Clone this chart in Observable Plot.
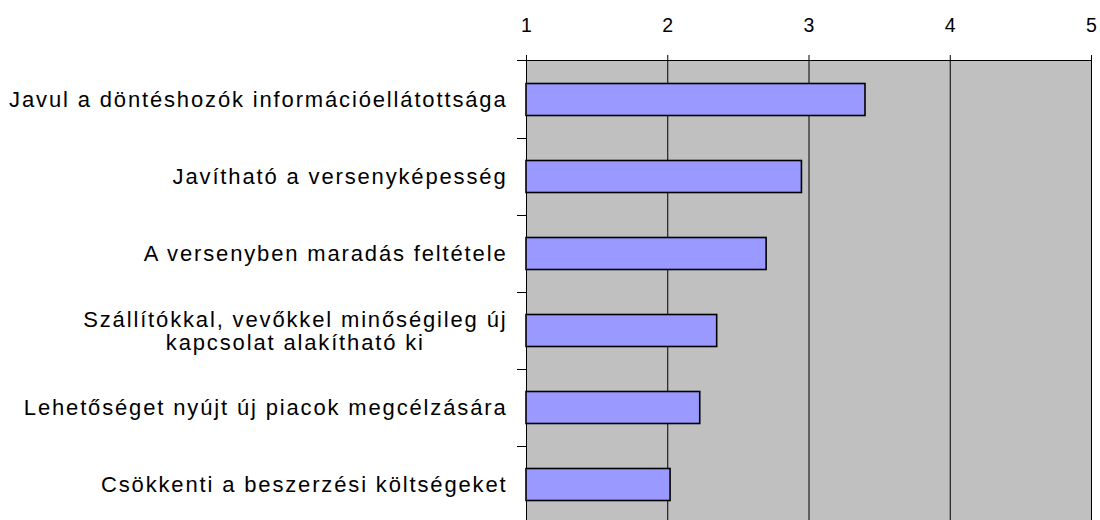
<!DOCTYPE html>
<html>
<head>
<meta charset="utf-8">
<script src="https://cdn.jsdelivr.net/npm/d3@7"></script>
<script src="https://cdn.jsdelivr.net/npm/@observablehq/plot@0.6"></script>
<style>
  html, body { margin: 0; padding: 0; background: #fff; overflow: hidden; }
  #chart svg { display: block; }
  #chart g[aria-label="y-axis tick label"] { letter-spacing: 1.85px; }
</style>
</head>
<body>
<div id="chart"></div>
<script>
const categories = [
  "Javul a döntéshozók információellátottsága",
  "Javítható a versenyképesség",
  "A versenyben maradás feltétele",
  "Szállítókkal, vevőkkel minőségileg új\nkapcsolat alakítható ki",
  "Lehetőséget nyújt új piacok megcélzására",
  "Csökkenti a beszerzési költségeket"
];
const values = [3.40, 2.95, 2.70, 2.35, 2.23, 2.02];
const xTicks = [1, 2, 3, 4, 5];

const data = categories.map((c, i) => ({label: c, value: values[i]}));

function boundaryTicks(index, scales, vals, dims) {
  const {y} = scales;
  const g = d3.create("svg:g").attr("stroke", "black").attr("stroke-width", 1);
  const left = dims.marginLeft;
  for (const c of categories.slice(1)) {
    const yy = Math.round(y(c)) + 0.5;
    g.append("line").attr("x1", left - 9).attr("x2", left).attr("y1", yy).attr("y2", yy);
  }
  const top = dims.marginTop + 0.5;
  g.append("line").attr("x1", left - 9).attr("x2", dims.width - dims.marginRight).attr("y1", top).attr("y2", top);
  return g.node();
}

const chart = Plot.plot({
  width: 1100,
  height: 524,
  marginTop: 60,
  marginBottom: 0,
  marginLeft: 526,
  marginRight: 9,
  style: {fontFamily: "'Liberation Sans', Arial, sans-serif", color: "black", background: "white"},
  x: {domain: [xTicks[0], xTicks[xTicks.length - 1]], axis: null, label: null},
  y: {domain: categories, padding: 0, axis: null, label: null},
  marks: [
    Plot.frame({fill: "#C0C0C0", stroke: null}),
    Plot.ruleX(xTicks, {stroke: "black", strokeWidth: 1}),
    Plot.barX(data, {
      y: "label",
      x1: () => xTicks[0],
      x2: "value",
      fill: "#9999FF",
      stroke: "black",
      strokeWidth: 1.6,
      insetTop: 22.5,
      insetBottom: 22.5
    }),
    Plot.axisX({
      anchor: "top",
      ticks: xTicks,
      tickSize: 6,
      tickPadding: 23,
      fontSize: 19.5,
      label: null,
      tickFormat: d => String(d)
    }),
    Plot.axisY({
      anchor: "left",
      tickSize: 0,
      tickPadding: 19,
      fontSize: 22,
      lineHeight: 1.05,
      label: null,
      tickFormat: d => d
    }),
    boundaryTicks
  ]
});

document.getElementById("chart").append(chart);

// center multi-line category labels (as in the original)
chart.querySelectorAll('g[aria-label="y-axis tick label"] text').forEach(t => {
  const spans = t.querySelectorAll("tspan");
  if (spans.length > 1) {
    let w = 0;
    spans.forEach(s => { w = Math.max(w, s.getComputedTextLength()); });
    t.setAttribute("text-anchor", "middle");
    spans.forEach(s => s.setAttribute("x", -w / 2));
  }
});
</script>
</body>
</html>
